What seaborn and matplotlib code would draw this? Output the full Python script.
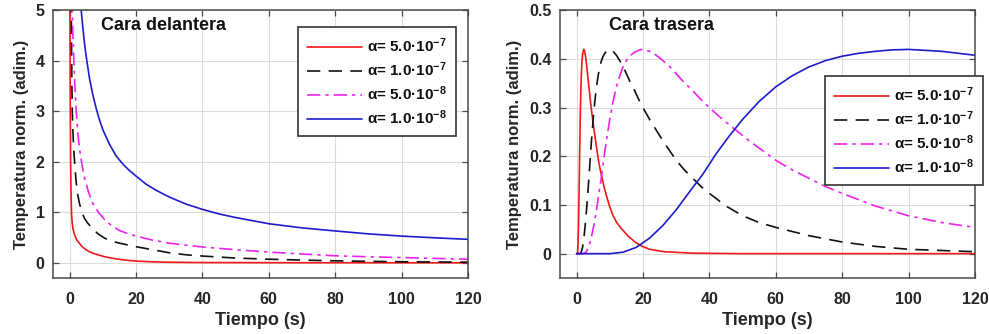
import matplotlib
matplotlib.use("Agg")
import matplotlib.pyplot as plt
import seaborn as sns
import pandas as pd
from matplotlib.ticker import FuncFormatter

# ---------------- data ----------------
labels = ["α= 5.0·10$^{-7}$", "α= 1.0·10$^{-7}$", "α= 5.0·10$^{-8}$", "α= 1.0·10$^{-8}$"]

# Front face (Cara delantera)
front_red_t = [0.05, 0.1, 0.15, 0.2, 0.3, 0.4, 0.5, 0.6, 0.8, 1.0, 1.3, 1.7, 2.2, 2.8, 3.5, 4.5, 5.7, 7.0,
               8.5, 10.6, 13, 15, 17.5, 20, 25, 30, 40, 60, 80, 100, 120]
front_red_T = [7.0, 5.0, 3.8, 3.0, 2.0, 1.5, 1.2, 0.95, 0.78, 0.68, 0.6, 0.52, 0.45, 0.4, 0.34, 0.28, 0.23, 0.19,
               0.16, 0.12, 0.09, 0.07, 0.05, 0.035, 0.02, 0.012, 0.006, 0.003, 0.002, 0.0015, 0.001]

front_black_t = [0.4, 0.5, 0.6, 0.7, 0.8, 1.0, 1.2, 1.5, 1.9, 2.3, 3.0, 3.7, 4.5, 5.3, 6.2, 7.4, 8.7, 10.5,
                 12.6, 15, 17.5, 20, 25, 30, 35, 40, 50, 60, 70, 80, 90, 100, 110, 120]
front_black_T = [6.0, 5.0, 4.2, 3.5, 3.0, 2.6, 2.3, 2.0, 1.65, 1.4, 1.17, 1.0, 0.88, 0.8, 0.73, 0.64, 0.57, 0.49,
                 0.43, 0.39, 0.355, 0.32, 0.26, 0.2, 0.16, 0.135, 0.095, 0.072, 0.055, 0.04, 0.03, 0.022, 0.017, 0.013]

front_mag_t = [0.6, 0.8, 1.0, 1.3, 1.6, 2.0, 2.5, 3.0, 3.7, 4.5, 5.7, 7.0, 8.7, 10.5, 12.6, 15, 17.5, 20, 25,
               30, 35, 40, 50, 60, 70, 80, 90, 100, 110, 120]
front_mag_T = [6.0, 5.0, 4.5, 4.0, 3.5, 3.0, 2.55, 2.25, 1.95, 1.68, 1.40, 1.18, 1.0, 0.86, 0.74, 0.64, 0.58, 0.53,
               0.45, 0.39, 0.35, 0.315, 0.26, 0.213, 0.175, 0.14, 0.12, 0.105, 0.088, 0.073]

front_blue_t = [3.0, 3.5, 4.0, 4.5, 5.0, 6.0, 7.0, 8.0, 9.0, 10, 12, 14, 16, 18, 20, 23, 26, 30, 35, 40, 45,
                50, 60, 70, 80, 90, 100, 110, 120]
front_blue_T = [5.45, 5.00, 4.65, 4.34, 4.09, 3.65, 3.33, 3.06, 2.83, 2.64, 2.35, 2.12, 1.96, 1.83, 1.72, 1.56,
                1.44, 1.305, 1.166, 1.06, 0.969, 0.898, 0.775, 0.693, 0.632, 0.574, 0.53, 0.496, 0.466]

# Back face (Cara trasera)
back_red_t = [0, 0.22, 0.31, 0.40, 0.48, 0.57, 0.66, 0.75, 0.84, 0.92, 1.01, 1.10, 1.21, 1.32, 1.43, 1.54,
              1.65, 1.76, 1.87, 1.98, 2.09, 2.20, 2.42, 2.64, 2.86, 3.08, 3.30, 3.52, 3.85, 4.18, 4.40, 4.84,
              5.28, 5.72, 6.16, 6.60, 7.15, 7.70, 8.25, 8.80, 9.90, 11.0, 12.1, 13.2, 15.4, 17.6, 19.8, 22.0,
              26.4, 35, 50, 80, 120]
back_red_T = [0, 0.000, 0.003, 0.013, 0.032, 0.058, 0.090, 0.127, 0.163, 0.205, 0.242, 0.276, 0.313, 0.343,
              0.366, 0.384, 0.397, 0.406, 0.412, 0.416, 0.419, 0.420, 0.416, 0.408, 0.397, 0.385, 0.370, 0.355,
              0.335, 0.313, 0.300, 0.276, 0.254, 0.232, 0.212, 0.192, 0.172, 0.155, 0.138, 0.124, 0.098, 0.078,
              0.064, 0.054, 0.037, 0.024, 0.015, 0.009, 0.004, 0.001, 0.0, 0.0, 0.0]

back_black_t = [0, 1.0, 1.4, 1.8, 2.2, 2.6, 3.0, 3.4, 3.8, 4.2, 4.6, 5.0, 5.5, 6.0, 6.5, 7.0, 7.5, 8.0, 8.5,
                9.0, 9.5, 10, 11, 12, 13, 14, 15, 16, 17.5, 19, 20, 22, 24, 26, 28, 30, 32.5, 35, 37.5, 40, 45,
                50, 55, 60, 70, 80, 90, 100, 120]
back_black_T = [0, 0.000, 0.003, 0.013, 0.032, 0.058, 0.090, 0.127, 0.163, 0.205, 0.242, 0.276, 0.313, 0.343,
                0.366, 0.384, 0.397, 0.406, 0.412, 0.416, 0.419, 0.420, 0.416, 0.408, 0.397, 0.385, 0.370, 0.355,
                0.335, 0.313, 0.300, 0.276, 0.254, 0.232, 0.212, 0.192, 0.172, 0.155, 0.138, 0.124, 0.098, 0.078,
                0.064, 0.054, 0.037, 0.024, 0.015, 0.009, 0.004]

back_mag_t = [0, 2.0, 2.8, 3.6, 4.4, 5.2, 6.0, 6.8, 7.6, 8.4, 9.2, 10, 11, 12, 13, 14, 15, 16, 17, 18, 19, 20,
              22, 24, 26, 28, 30, 32, 35, 38, 40, 44, 48, 52, 56, 60, 65, 70, 75, 80, 90, 100, 110, 120]
back_mag_T = [0, 0.000, 0.003, 0.013, 0.032, 0.058, 0.090, 0.127, 0.163, 0.205, 0.242, 0.276, 0.313, 0.343,
              0.366, 0.384, 0.397, 0.406, 0.412, 0.416, 0.419, 0.420, 0.416, 0.408, 0.397, 0.385, 0.370, 0.355,
              0.335, 0.313, 0.300, 0.276, 0.254, 0.232, 0.212, 0.192, 0.172, 0.155, 0.138, 0.124, 0.098, 0.078,
              0.064, 0.054]

back_blue_t = [0, 10, 14, 18, 22, 26, 30, 34, 38, 42, 46, 50, 55, 60, 65, 70, 75, 80, 85, 90, 95, 100, 110, 120]
back_blue_T = [0, 0.000, 0.003, 0.013, 0.032, 0.058, 0.090, 0.127, 0.163, 0.205, 0.242, 0.276, 0.313, 0.343,
               0.366, 0.384, 0.397, 0.406, 0.412, 0.416, 0.419, 0.420, 0.416, 0.408]

x_ticks = [0, 20, 40, 60, 80, 100, 120]
front_yticks = [0, 1, 2, 3, 4, 5]
back_yticks = [0, 0.1, 0.2, 0.3, 0.4, 0.5]

# ---------------- style ----------------
sns.set_theme(style="white")
plt.rcParams["font.family"] = ["Liberation Sans", "DejaVu Sans"]
plt.rcParams["font.weight"] = "bold"
plt.rcParams["mathtext.fontset"] = "custom"
plt.rcParams["mathtext.rm"] = "Liberation Sans:bold"
plt.rcParams["mathtext.it"] = "Liberation Sans:bold"
plt.rcParams["mathtext.bf"] = "Liberation Sans:bold"
plt.rcParams["mathtext.default"] = "rm"

styles = [
    dict(color="#f01818", linestyle="-", linewidth=1.2),
    dict(color="#111111", linestyle=(0, (8, 5)), linewidth=1.2),
    dict(color="#ee22ee", linestyle=(0, (8, 3, 2, 3)), linewidth=1.2),
    dict(color="#1c1ccc", linestyle="-", linewidth=1.2),
]

fig = plt.figure(figsize=(9.89, 3.34), dpi=100)
fig.patch.set_facecolor("white")
axL = fig.add_axes([0.0536, 0.1677, 0.4196, 0.8009])
axR = fig.add_axes([0.5662, 0.1677, 0.4196, 0.8009])

front = [(front_red_t, front_red_T), (front_black_t, front_black_T),
         (front_mag_t, front_mag_T), (front_blue_t, front_blue_T)]
back = [(back_red_t, back_red_T), (back_black_t, back_black_T),
        (back_mag_t, back_mag_T), (back_blue_t, back_blue_T)]


def draw(ax, series):
    for (t, T), lab, st in zip(series, labels, styles):
        df = pd.DataFrame({"t": t, "T": T})
        sns.lineplot(data=df, x="t", y="T", ax=ax, estimator=None, sort=False,
                     label=lab, **st)


draw(axL, front)
draw(axR, back)


def fmt(v, pos):
    return f"{v:g}"


for ax, yt, ylim in [(axL, front_yticks, (-0.3, 5)), (axR, back_yticks, (-0.05, 0.5))]:
    ax.set_xlim(-5, 120)
    ax.set_ylim(*ylim)
    ax.set_xticks(x_ticks)
    ax.set_yticks(yt)
    ax.yaxis.set_major_formatter(FuncFormatter(fmt))
    ax.grid(True, color="#dcdcdc", linewidth=0.8)
    ax.set_axisbelow(True)
    for sp in ax.spines.values():
        sp.set_color("#4a4a4a")
        sp.set_linewidth(1.1)
    ax.tick_params(axis="both", which="both", direction="in", length=4, width=0.9,
                   colors="#4a4a4a", labelcolor="#262626", labelsize=11.5,
                   top=True, right=True, bottom=True, left=True)
    ax.tick_params(axis="x", pad=10)
    ax.tick_params(axis="y", pad=6)
    for lbl in ax.get_xticklabels() + ax.get_yticklabels():
        lbl.set_fontweight("bold")
    ax.set_xlabel("Tiempo (s)", fontsize=13, fontweight="bold", color="#262626", labelpad=4)
    ax.set_ylabel("Temperatura norm. (adim.)", fontsize=12, fontweight="bold", color="#262626", labelpad=5)

axL.text(0.116, 0.944, "Cara delantera", transform=axL.transAxes, fontsize=13,
         fontweight="bold", color="#111111", ha="left", va="center")
axR.text(0.118, 0.944, "Cara trasera", transform=axR.transAxes, fontsize=13,
         fontweight="bold", color="#111111", ha="left", va="center")

for ax, anchor in [(axL, (0.590, 0.937)), (axR, (0.639, 0.754))]:
    leg = ax.legend(loc="upper left", bbox_to_anchor=anchor, borderaxespad=0,
                    fontsize=11, frameon=True, fancybox=False, framealpha=1,
                    handlelength=3.6, handletextpad=0.3, labelspacing=0.35,
                    borderpad=0.6)
    leg.get_frame().set_edgecolor("#333333")
    leg.get_frame().set_linewidth(1.2)
    for txt in leg.get_texts():
        txt.set_fontweight("bold")
        txt.set_color("#111111")

fig.savefig("out.png", dpi=100, facecolor="white")
